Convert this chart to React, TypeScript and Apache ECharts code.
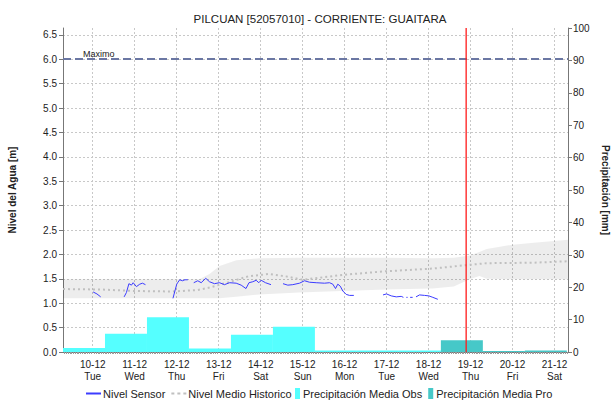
import React, { useEffect, useRef } from 'react';
import * as echarts from 'echarts';

// x values are days counted from 10-12 00:00
const dayLabels = ['10-12', '11-12', '12-12', '13-12', '14-12', '15-12', '16-12', '17-12', '18-12', '19-12', '20-12', '21-12'];
const weekdays = ['Tue', 'Wed', 'Thu', 'Fri', 'Sat', 'Sun', 'Mon', 'Tue', 'Wed', 'Thu', 'Fri', 'Sat'];
const xMin = -0.708;
const xMax = 11.32;
const yMax = 6.64;

const sensorTime = [
  0.01, 0.10, 0.19, 0.47,
  0.748, 0.803, 0.862, 0.922, 0.963, 1.041, 1.120, 1.184, 1.256, 1.58,
  1.911, 2.001, 2.03, 2.073, 2.137, 2.197, 2.264, 2.33,
  2.406, 2.502, 2.583, 2.692, 2.781, 2.900, 3.019, 3.138, 3.258, 3.417, 3.536, 3.650, 3.722, 3.812, 3.893, 3.955, 4.012, 4.115, 4.246, 4.39,
  4.532, 4.646, 4.765, 4.925, 5.044, 5.163, 5.323, 5.521, 5.640, 5.718, 5.783, 5.837, 5.895, 5.957, 6.038, 6.116, 6.219, 6.55,
  6.914, 6.998, 7.110, 7.229, 7.348, 7.40, 7.44, 7.47, 7.50, 7.53, 7.56, 7.62, 7.66, 7.70, 7.784, 7.903, 8.006, 8.101, 8.220,
];
const sensorLevel = [
  1.23, 1.19, 1.13, null,
  1.13, 1.22, 1.40, 1.37, 1.42, 1.34, 1.39, 1.41, 1.38, null,
  1.10, 1.39, 1.43, 1.48, 1.46, 1.48, 1.48, null,
  1.42, 1.46, 1.42, 1.51, 1.44, 1.40, 1.42, 1.38, 1.42, 1.41, 1.37, 1.30, 1.42, 1.44, 1.47, 1.42, 1.47, 1.42, 1.38, null,
  1.40, 1.37, 1.38, 1.41, 1.46, 1.43, 1.42, 1.41, 1.42, 1.39, 1.30, 1.39, 1.35, 1.25, 1.18, 1.16, 1.16, null,
  1.17, 1.19, 1.15, 1.13, 1.14, 1.12, null, 1.12, 1.12, null, 1.12, 1.12, null, 1.13, 1.17, 1.16, 1.15, 1.12, 1.08,
];

const meanTime = [-0.708, 0.2, 1.0, 1.9, 2.5, 2.78, 3.2, 3.7, 4.2, 4.6, 5.0, 5.95, 6.9, 8.1, 8.9, 9.38, 10.5, 11.32];
const meanLevel = [1.29, 1.28, 1.25, 1.24, 1.27, 1.32, 1.42, 1.55, 1.60, 1.55, 1.48, 1.58, 1.65, 1.71, 1.78, 1.82, 1.83, 1.86];

const bandTime = [-0.708, 2.54, 2.78, 3.02, 3.42, 3.97, 4.92, 5.95, 7.0, 8.1, 8.6, 8.98, 9.21, 9.38, 10.0, 10.5, 11.32];
const bandLow = [1.10, 1.10, 1.10, 1.10, 1.13, 1.18, 1.22, 1.25, 1.28, 1.30, 1.34, 1.49, 1.56, 1.50, 1.49, 1.49, 1.49];
const bandHigh = [1.49, 1.49, 1.60, 1.76, 1.88, 1.92, 1.93, 1.93, 1.93, 1.92, 1.93, 1.98, 2.05, 2.11, 2.20, 2.24, 2.30];

// daily precipitation (07:00 to 07:00), mm
const obsStart = [-0.708, 0.292, 1.292, 2.292, 3.292, 4.292, 5.292, 6.292, 7.292];
const obsValue = [1.2, 5.6, 10.7, 1.1, 5.3, 7.8, 0.5, 0.5, 0.5];
const proStart = [8.292, 9.292, 10.292];
const proValue = [3.6, 0.3, 0.5];

const maxLevel = 6.0;
const nowTime = 8.88;

const FONT = '"Liberation Sans", Arial, sans-serif';
const LINE_ICON = 'path://M0,4h15v2h-15z';
const DOT_ICON = 'path://M0,4h3v2h-3zM6,4h3v2h-3zM12,4h3v2h-3z';

export default function App() {
  const ref = useRef<HTMLDivElement>(null);
  useEffect(() => {
    document.body.style.margin = '0';
    const chart = echarts.init(ref.current!, null, { renderer: 'svg' });
    const barItem = (color: string) => (params: any, api: any) => {
      const s = api.value(0);
      const e = api.value(1);
      const v = api.value(2);
      const p0 = api.coord([s, v]);
      const p1 = api.coord([e, 0]);
      return {
        type: 'rect',
        shape: { x: p0[0], y: p0[1], width: p1[0] - p0[0], height: p1[1] - p0[1] },
        style: { fill: color },
      };
    };
    const option: any = {
      animation: false,
      textStyle: { fontFamily: FONT },
      title: {
        text: 'PILCUAN [52057010] - CORRIENTE: GUAITARA',
        left: 315,
        textAlign: 'center',
        top: 8,
        textStyle: { fontSize: 11.5, fontWeight: 'normal', color: '#222', fontFamily: FONT },
      },
      legend: [
        {
          data: [
            { name: 'Nivel Sensor', icon: LINE_ICON },
            { name: 'Nivel Medio Historico', icon: DOT_ICON },
          ],
          left: 86,
          top: 388,
          padding: 0,
          itemWidth: 15,
          itemHeight: 10,
          itemGap: 6,
          textStyle: { fontSize: 11, color: '#222', fontFamily: FONT, padding: [0, 0, 0, -3] },
        },
        {
          data: [
            { name: 'Precipitación Media Obs', icon: 'rect' },
            { name: 'Precipitación Media Pro', icon: 'rect' },
          ],
          left: 295,
          top: 388,
          padding: 0,
          itemWidth: 5,
          itemHeight: 11,
          itemGap: 6,
          textStyle: { fontSize: 11, color: '#222', fontFamily: FONT, padding: [0, 0, 0, -2] },
        },
      ],
      grid: { left: 63, right: 47, top: 28, bottom: 52, containLabel: false, outerBoundsMode: 'none' },
      xAxis: {
        type: 'value',
        min: xMin,
        max: xMax,
        minInterval: 1,
        maxInterval: 1,
        axisLine: { show: true, onZero: false, lineStyle: { color: '#777' } },
        axisTick: { show: false },
        minorTick: { show: true, splitNumber: 24, length: 2, lineStyle: { color: '#999' } },
        splitLine: {
          show: true,
          showMinLine: false,
          showMaxLine: false,
          lineStyle: { color: '#c8c8c8', type: [2, 2] },
        },
        axisLabel: {
          showMinLabel: false,
          showMaxLabel: false,
          margin: 6,
          fontSize: 10,
          lineHeight: 12,
          color: '#222',
          formatter: (v: number) => {
            const i = Math.round(v);
            if (Math.abs(v - i) > 1e-6 || i < 0 || i >= dayLabels.length) return '';
            return dayLabels[i] + '\n' + weekdays[i];
          },
        },
      },
      yAxis: [
        {
          type: 'value',
          min: 0,
          max: yMax,
          interval: 0.5,
          name: 'Nivel del Agua [m]',
          nameLocation: 'middle',
          nameRotate: 90,
          nameGap: 46,
          nameTextStyle: { fontSize: 10, color: '#222', fontFamily: FONT, fontWeight: 'bold' },
          axisLine: { show: true, onZero: false, lineStyle: { color: '#777' } },
          axisTick: { show: true, length: 4, lineStyle: { color: '#777' } },
          splitLine: { show: true, showMaxLine: false, showMinLine: false, lineStyle: { color: '#c8c8c8', type: [2, 2] } },
          axisLabel: {
            showMaxLabel: false,
            fontSize: 10,
            color: '#222',
            margin: 6,
            formatter: (v: number) => v.toFixed(1),
          },
        },
        {
          type: 'value',
          min: 0,
          max: 100,
          interval: 10,
          position: 'right',
          name: 'Precipitación [mm]',
          nameLocation: 'middle',
          nameRotate: -90,
          nameGap: 26,
          nameTextStyle: { fontSize: 10, color: '#222', fontFamily: FONT, fontWeight: 'bold' },
          axisLine: { show: true, onZero: false, lineStyle: { color: '#777' } },
          axisTick: { show: true, length: 4, lineStyle: { color: '#777' } },
          splitLine: { show: false },
          axisLabel: { fontSize: 10, color: '#222', margin: 5 },
        },
      ],
      series: [
        {
          name: 'band',
          type: 'custom',
          silent: true,
          z: 1,
          data: bandTime.map((t, i) => [t, bandLow[i], bandHigh[i]]),
          encode: { x: 0, y: [1, 2] },
          renderItem: (params: any, api: any) => {
            if (params.dataIndex !== 0) return null;
            const pts: number[][] = [];
            for (let i = 0; i < bandTime.length; i++) pts.push(api.coord([bandTime[i], bandHigh[i]]));
            for (let i = bandTime.length - 1; i >= 0; i--) pts.push(api.coord([bandTime[i], bandLow[i]]));
            return { type: 'polygon', shape: { points: pts }, style: { fill: 'rgba(0,0,0,0.07)' } };
          },
        },
        {
          name: 'Precipitación Media Obs',
          type: 'custom',
          yAxisIndex: 1,
          z: 2,
          itemStyle: { color: '#55ffff' },
          data: obsStart.map((s, i) => [s, s + 1, obsValue[i]]),
          encode: { x: [0, 1], y: 2 },
          renderItem: barItem('#55ffff'),
        },
        {
          name: 'Precipitación Media Pro',
          type: 'custom',
          yAxisIndex: 1,
          z: 2,
          itemStyle: { color: '#46c8c8' },
          data: proStart.map((s, i) => [s, Math.min(s + 1, xMax), proValue[i]]),
          encode: { x: [0, 1], y: 2 },
          renderItem: barItem('#46c8c8'),
        },
        {
          name: 'Nivel Medio Historico',
          type: 'line',
          z: 3,
          symbol: 'none',
          color: '#c0c0c0',
          itemStyle: { color: '#c0c0c0' },
          lineStyle: { color: '#c0c0c0', width: 2, type: [2, 3] },
          data: meanTime.map((t, i) => [t, meanLevel[i]]),
        },
        {
          name: 'now',
          type: 'custom',
          z: 5,
          silent: true,
          data: [[nowTime, 0, yMax]],
          encode: { x: 0, y: [1, 2] },
          renderItem: (params: any, api: any) => {
            const top = api.coord([api.value(0), api.value(2)]);
            const bottom = api.coord([api.value(0), api.value(1)]);
            return {
              type: 'rect',
              shape: { x: Math.round(top[0]) - 0.5, y: top[1], width: 1.3, height: bottom[1] - top[1] },
              style: { fill: '#ff1a1a' },
            };
          },
        },
        {
          name: 'Nivel Sensor',
          type: 'line',
          z: 4,
          symbol: 'none',
          connectNulls: false,
          color: '#3c3cff',
          itemStyle: { color: '#3c3cff' },
          lineStyle: { color: '#3c3cff', width: 1 },
          data: sensorTime.map((t, i) => [t, sensorLevel[i] === null ? null : sensorLevel[i]]),
          markLine: {
            silent: true,
            symbol: 'none',
            animation: false,
            lineStyle: { color: '#6b77a3', width: 2, type: [8, 4] },
            data: [
              {
                yAxis: maxLevel,
                lineStyle: { color: '#6b77a3', width: 2, type: [8, 4] },
                label: {
                  show: true,
                  position: 'insideStartTop',
                  formatter: 'Maximo',
                  fontSize: 9,
                  color: '#222',
                  distance: [20, 1],
                },
              },
            ],
          },
        },
      ],
    };
    chart.setOption(option);
    return () => chart.dispose();
  }, []);
  return <div ref={ref} style={{ width: 615, height: 404 }} />;
}
